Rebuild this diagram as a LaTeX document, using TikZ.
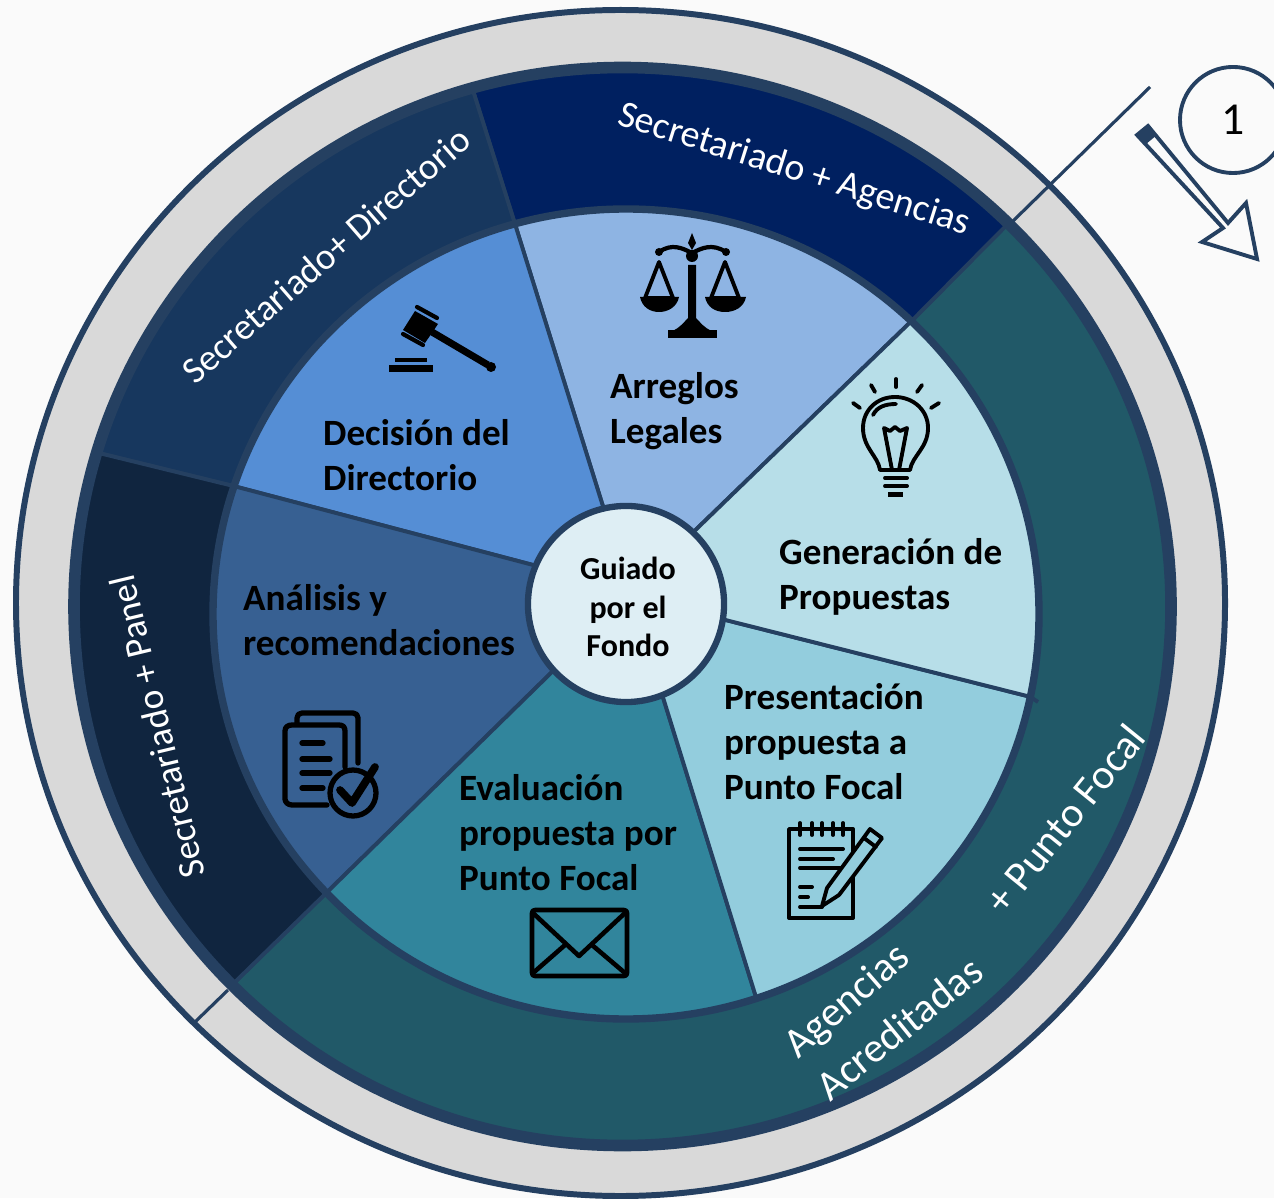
\documentclass[tikz,border=0pt]{standalone}
\usepackage{fontspec}
\setmainfont{Carlito}
\definecolor{paper}{HTML}{FAFAFA}
\definecolor{ringgray}{HTML}{D9D9D9}
\definecolor{edge}{HTML}{254061}
\definecolor{bandnavy}{HTML}{002060}
\definecolor{banddir}{HTML}{17375E}
\definecolor{bandpanel}{HTML}{10253F}
\definecolor{bandteal}{HTML}{215968}
\definecolor{piearreglos}{HTML}{8EB4E3}
\definecolor{piedecision}{HTML}{558ED5}
\definecolor{pieanalisis}{HTML}{376092}
\definecolor{pieeval}{HTML}{31859C}
\definecolor{piepres}{HTML}{93CDDD}
\definecolor{piegen}{HTML}{B7DEE8}
\definecolor{hubfill}{HTML}{DEEEF4}
\tikzset{
  sector/.style   = {draw=edge, line width=1.1pt},
  stagetext/.style= {anchor=west, align=left, inner sep=0pt, black,
                     font=\fontsize{10.55}{12.8}\selectfont\bfseries},
  bandtext/.style = {white, inner sep=0pt, font=\fontsize{10.6}{12}\selectfont},
  bandlarge/.style= {white, inner sep=0pt, font=\fontsize{11.9}{14}\selectfont},
  icon/.style     = {draw=black, line width=1.1pt, line cap=round, line join=round}
}
\begin{document}
\begin{tikzpicture}[
    x = 0.01cm,
    y = -0.01cm
  ]
\clip (0,0) rectangle (1274,1198);
\fill[paper] (0,0) rectangle (1274,1198);
% outer gray ring
\filldraw[fill=ringgray, draw=edge, line width=1.7pt] (620.5,603) ellipse [x radius=604.5, y radius=593];
% inner ends of the rays (under the hub)
\coordinate (ingen) at (650,574);
\coordinate (inarr) at (620,561);
\coordinate (indec) at (590,580);
\coordinate (inana) at (600,625);
\coordinate (ineva) at (648,649);
\coordinate (inpre) at (670,606);
% ends of the rays on the stage circle
\coordinate (outgen) at ([shift={(626,614)}] -46.3:413 and 405);
\coordinate (outarr) at ([shift={(626,614)}] -105.6:413 and 405);
\coordinate (outdec) at ([shift={(626,614)}] -161.6:413 and 405);
\coordinate (outana) at ([shift={(626,614)}] 136.5:413 and 405);
\coordinate (outeva) at ([shift={(626,614)}] 71.6:413 and 405);
\coordinate (outpre) at ([shift={(626,614)}] 11.8:413 and 405);
\coordinate (outprestub) at (1038,702);
% ends of the rays on the band circle
\coordinate (bandne) at ([shift={(622.5,606.5)}] -45.3:548.5 and 539);
\coordinate (bandn) at ([shift={(622.5,606.5)}] -105.9:548.5 and 539);
\coordinate (bandw) at ([shift={(622.5,606.5)}] -163.4:548.5 and 539);
\coordinate (bandsw) at ([shift={(622.5,606.5)}] 135.4:548.5 and 539);
% bands
\filldraw[sector, fill=bandteal] (outgen) -- (bandne) arc [start angle=-45.3, end angle=135.4, x radius=548.5, y radius=539] -- (outana) -- cycle;
\filldraw[sector, fill=bandnavy] (outarr) -- (bandn) arc [start angle=-105.9, end angle=-45.3, x radius=548.5, y radius=539] -- (outgen) -- cycle;
\filldraw[sector, fill=banddir] (outdec) -- (bandw) arc [start angle=-163.4, end angle=-105.9, x radius=548.5, y radius=539] -- (outarr) -- cycle;
\filldraw[sector, fill=bandpanel] (outana) -- (bandsw) arc [start angle=135.4, end angle=196.6, x radius=548.5, y radius=539] -- (outdec) -- cycle;
\draw[edge, line width=3.3pt] (622.5,606.5) ellipse [x radius=548.5, y radius=539];
% stages
\filldraw[sector, fill=piearreglos] (inarr) -- (outarr) arc [start angle=-105.6, end angle=-46.3, x radius=413, y radius=405] -- (ingen) -- cycle;
\filldraw[sector, fill=piedecision] (indec) -- (outdec) arc [start angle=-161.6, end angle=-105.6, x radius=413, y radius=405] -- (inarr) -- cycle;
\filldraw[sector, fill=pieanalisis] (inana) -- (outana) arc [start angle=136.5, end angle=198.4, x radius=413, y radius=405] -- (indec) -- cycle;
\filldraw[sector, fill=pieeval] (ineva) -- (outeva) arc [start angle=71.6, end angle=136.5, x radius=413, y radius=405] -- (inana) -- cycle;
\filldraw[sector, fill=piepres] (inpre) -- (outpre) arc [start angle=11.8, end angle=71.6, x radius=413, y radius=405] -- (ineva) -- cycle;
\filldraw[sector, fill=piegen] (ingen) -- (outgen) arc [start angle=-46.3, end angle=11.8, x radius=413, y radius=405] -- (inpre) -- cycle;
\draw[edge, line width=2.1pt] (626,614) ellipse [x radius=413, y radius=405];
\draw[edge, line width=1.1pt] (outpre) -- (outprestub);
% hub
\node[circle, fill=hubfill, draw=edge, line width=1.8pt, minimum size=1.96cm, inner sep=0pt] (hub) at (626,604) {};
\node[align=center, inner sep=0pt, font=\fontsize{9.1}{10.9}\selectfont\bfseries] (hubtext) at (628,607) {Guiado\\por el\\Fondo};
% ticks on the ring
\coordinate (tickne) at (1150,87);
\coordinate (tickneend) at (1012,222);
\coordinate (ticksw) at (195,1022);
\coordinate (tickswend) at (228,990);
\draw[edge, line width=0.9pt] (tickne) -- (tickneend);
\draw[edge, line width=0.9pt] (ticksw) -- (tickswend);
% step number and direction arrow
\node[circle, draw=edge, fill=paper, line width=1.1pt, minimum size=1.06cm, inner sep=0pt,
      font=\fontsize{13}{15}\selectfont] (stepnum) at (1233,120) {1};
\draw[edge, line width=1.1pt, line join=miter, fill=paper] (1148,126) -- (1228,223) -- (1246,203) -- (1257,259) -- (1202,242) -- (1223,228) -- (1137,135) -- cycle;
\fill[edge] (1137,135) -- (1148,126) -- (1157,135) -- (1146,144) -- cycle;
% band labels
\node[bandtext, font=\fontsize{10.8}{12}\selectfont, rotate=-17.5] (bandagencias) at (794,170) {Secretariado + Agencias};
\node[bandtext, rotate=41] (banddirectorio) at (326,255) {Secretariado+ Directorio};
\node[bandtext, rotate=103.5] (bandsecpanel) at (157,727) {Secretariado + Panel};
\node[bandlarge, rotate=41] (bandacred1) at (848,1002) {Agencias};
\node[bandlarge, rotate=39] (bandacred2) at (899,1028) {Acreditadas};
\node[bandlarge, rotate=51] (bandacred3) at (1065,819) {+ Punto Focal};
% stage labels
\node[stagetext] (arreglos) at (609.5,411) {Arreglos\\Legales};
\node[stagetext] (decision) at (322.5,455) {Decisión del\\Directorio};
\node[stagetext] (analisis) at (242.5,620) {Análisis y\\recomendaciones};
\node[stagetext] (evaluacion) at (458.5,833) {Evaluación\\propuesta por\\Punto Focal};
\node[stagetext] (presentacion) at (723.5,742) {Presentación\\propuesta a\\Punto Focal};
\node[stagetext] (generacion) at (778.5,577) {Generación de\\Propuestas};
% scales
\fill[black] (668,338) rectangle (717,330);
\fill[black] (672,331) .. controls (680,328) and (684,322) .. (688,318) -- (688,265) -- (696,265) -- (696,318) .. controls (700,322) and (704,328) .. (712,331) -- cycle;
\draw[icon, line width=1.2pt] (659,252) .. controls (672,243) and (682,248) .. (692,253) .. controls (702,248) and (712,243) .. (726,252);
\fill[black] (692,233) -- (696,243) -- (692,250) -- (688,243) -- cycle;
\fill[black] (692,256) circle [radius=6];
\fill[black] (659,252) circle [radius=4];
\fill[black] (726,252) circle [radius=4];
\draw[icon] (659,262) -- (645,298) -- (673,298) -- cycle;
\draw[icon] (725,262) -- (711,298) -- (739,298) -- cycle;
\fill[black] (640,297) -- (679,297) .. controls (677,307) and (668,312) .. (659,312) .. controls (650,312) and (642,307) .. (640,297) -- cycle;
\fill[black] (705,297) -- (746,297) .. controls (744,307) and (735,312) .. (725,312) .. controls (715,312) and (707,307) .. (705,297) -- cycle;
% bulb
\draw[icon] (880,470) .. controls (878,456) and (863,448) .. (863,428) .. controls (863,410) and (877,397) .. (895,397) .. controls (913,397) and (928,410) .. (928,428) .. controls (928,448) and (912,456) .. (910,470) -- cycle;
\draw[icon] (892,470) -- (884,428) -- (890,431) -- (895,427) -- (900,431) -- (907,428) -- (899,470);
\draw[icon] (873,415) .. controls (877,407) and (885,404) .. (896,404);
\draw[icon] (885,478) -- (907,478);
\draw[icon] (885,486) -- (907,486);
\fill[black] (888,492) rectangle (903,497);
\draw[icon] (896,379) -- (896,387);
\draw[icon] (871,385) -- (875,392);
\draw[icon] (922,385) -- (917,392);
\draw[icon] (853,403) -- (860,408);
\draw[icon] (939,403) -- (931,408);
% gavel
\fill[black] (415,311) -- (438,324) -- (425,343) -- (403,330) -- cycle;
\draw[icon, line width=1.2pt] (417,307) -- (437,318);
\draw[icon, line width=1.2pt] (403,334) -- (423,345);
\draw[icon, line width=2pt, line cap=butt] (432,332) -- (488,365);
\fill[black] (491,367) circle [radius=5];
\fill[black] (389,372) rectangle (433,365);
\fill[black] (395,362) rectangle (427,358);
% documents and check
\draw[icon, line width=1.5pt] (297,724) -- (297,718) .. controls (297,715) and (299,713) .. (302,713) -- (353,713) .. controls (356,713) and (358,715) .. (358,718) -- (358,763);
\draw[icon, line width=1.5pt] (327,805) -- (292,805) .. controls (288,805) and (285,802) .. (285,799) -- (285,731) .. controls (285,727) and (288,725) .. (292,725) -- (339,725) .. controls (343,725) and (345,727) .. (345,731) -- (345,767);
\draw[icon, line width=1.5pt] (302,743) -- (323,743);
\draw[icon, line width=1.5pt] (302,759) -- (330,759);
\draw[icon, line width=1.5pt] (302,773) -- (330,773);
\draw[icon, line width=1.5pt] (302,788) -- (323,788);
\draw[icon, line width=1.5pt] (353,793) circle [radius=23];
\draw[icon, line width=2.2pt] (340,790) -- (352,803) -- (375,767);
% envelope
\draw[icon, line width=1.3pt] (535,910) -- (624,910) .. controls (626,910) and (627,911) .. (627,913) -- (627,973) .. controls (627,975) and (626,976) .. (624,976) -- (535,976) .. controls (533,976) and (532,975) .. (532,973) -- (532,913) .. controls (532,911) and (533,910) .. (535,910) -- cycle;
\draw[icon, line width=1.3pt] (533,913) -- (579,956) -- (625,913);
\draw[icon, line width=1.3pt] (533,973) -- (565,945);
\draw[icon, line width=1.3pt] (625,973) -- (592,945);
% notepad and pencil
\draw[icon, line cap=butt] (789,829) rectangle (853,918);
\draw[icon] (800,823) -- (800,835);
\draw[icon] (812,823) -- (812,835);
\draw[icon] (822,823) -- (822,835);
\draw[icon] (833,823) -- (833,835);
\draw[icon] (843,823) -- (843,835);
\draw[icon] (800,849) -- (843,849);
\draw[icon] (800,859) -- (833,859);
\draw[icon] (800,868) -- (840,868);
\draw[icon] (800,887) -- (812,887);
\draw[icon] (800,897) -- (808,897);
\draw[icon] (800,907) -- (822,907);
\filldraw[icon, fill=piepres] (822,906) -- (827,888) -- (870,829) -- (882,838) -- (839,895) -- cycle;
\draw[icon] (864,838) -- (876,847);
\end{tikzpicture}
\end{document}
